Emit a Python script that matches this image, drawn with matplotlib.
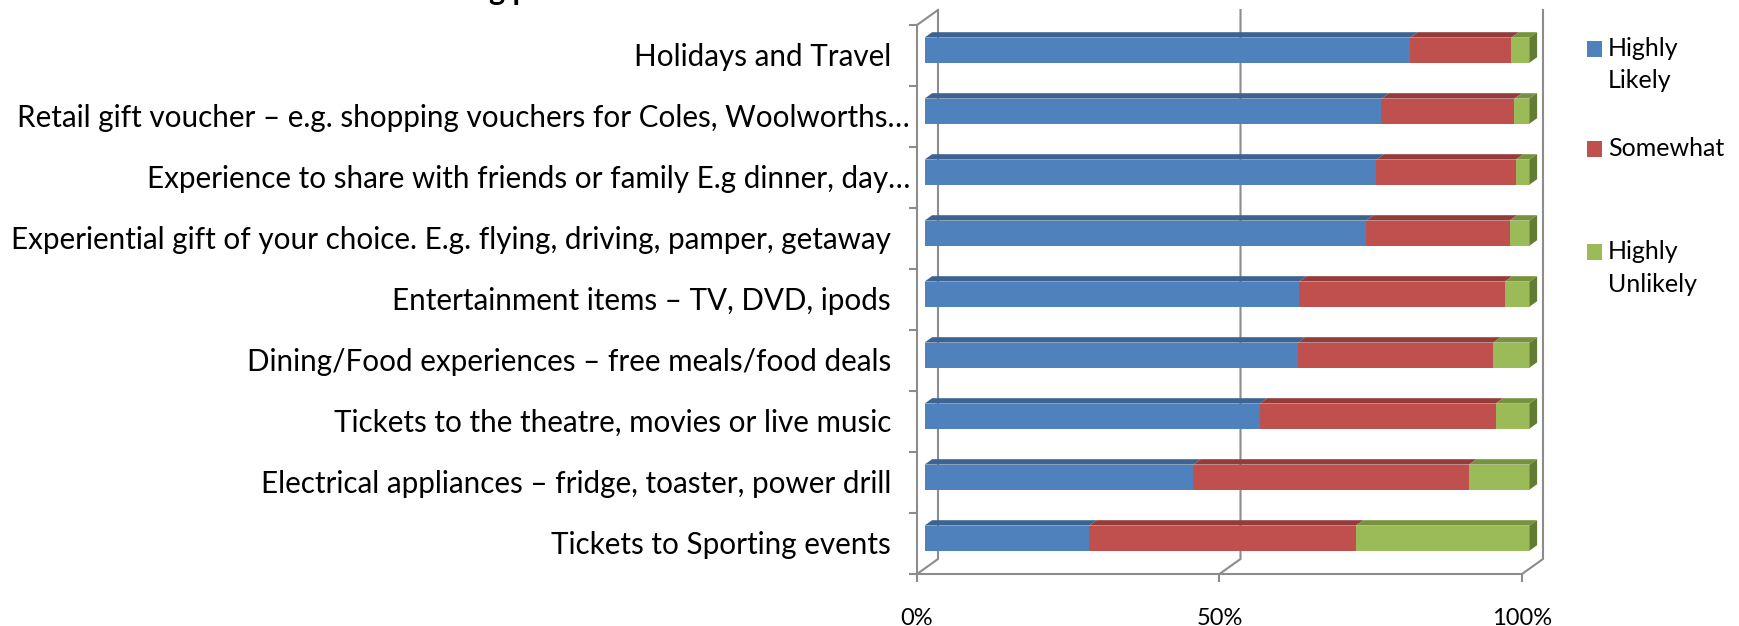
import numpy as np
import matplotlib.pyplot as plt
from matplotlib.patches import Polygon, Rectangle

plt.rcParams['font.family'] = ['Lato', 'DejaVu Sans']

labels = [
    "Holidays and Travel",
    "Retail gift voucher – e.g. shopping vouchers for Coles, Woolworths…",
    "Experience to share with friends or family E.g dinner, day…",
    "Experiential gift of your choice. E.g. flying, driving, pamper, getaway",
    "Entertainment items – TV, DVD, ipods",
    "Dining/Food experiences – free meals/food deals",
    "Tickets to the theatre, movies or live music",
    "Electrical appliances – fridge, toaster, power drill",
    "Tickets to Sporting events",
]
highly_likely = [80.3, 75.5, 74.7, 73.0, 61.9, 61.7, 55.4, 44.4, 27.2]
somewhat = [16.7, 22.0, 23.0, 23.7, 34.0, 32.3, 39.0, 45.6, 44.1]
highly_unlikely = [3.0, 2.5, 2.3, 3.3, 4.1, 6.0, 5.6, 10.0, 28.7]
series_names = ["Highly\nLikely", "Somewhat", "Highly\nUnlikely"]
tick_vals = [0, 50, 100]
tick_labels = ["0%", "50%", "100%"]

front_colors = ['#4F81BD', '#C0504D', '#9BBB59']
top_colors = ['#3C6391', '#943C3A', '#76923C']
side_color = '#627C33'
frame = '#8C8C8C'

W, H = 1740, 626
fig = plt.figure(figsize=(W / 100, H / 100), dpi=100)
ax = fig.add_axes([917 / W, (H - 574) / H, 605 / W, 549 / H])
ax.set_xlim(0, 100)
ax.set_ylim(8.5, -0.5)

# fake 3d: shift for full depth, in data units
px_x = 100 / 605
px_y = 1 / 61
SX, SY = 21 * px_x, -15 * px_y
D0, D1 = 0.36, 0.72
bh = 0.41


def shift(x, y, d):
    return (x + SX * d, y + SY * d)


# walls / gridlines
for v in tick_vals:
    xs = [v, shift(v, 8.5, 1)[0], shift(v, -0.5, 1)[0]]
    ys = [8.5, shift(v, 8.5, 1)[1], shift(v, -0.5, 1)[1]]
    ax.plot(xs, ys, color=frame, lw=1.5, clip_on=False, zorder=1)
ax.plot([0, SX], [-0.5, -0.5 + SY], color=frame, lw=1.5, clip_on=False, zorder=1)

rows = np.arange(len(labels))
left = np.zeros(len(labels))
for k, vals in enumerate([highly_likely, somewhat, highly_unlikely]):
    vals = np.array(vals)
    ax.barh(rows + SY * D0, vals, left=left + SX * D0, height=bh,
            color=front_colors[k], zorder=3, clip_on=False)
    for i in rows:
        x0, x1, yt = left[i], left[i] + vals[i], i - bh / 2
        top = [shift(x0, yt, D0), shift(x1, yt, D0), shift(x1, yt, D1), shift(x0, yt, D1)]
        ax.add_patch(Polygon(top, closed=True, fc=top_colors[k], ec='none',
                             zorder=3, clip_on=False))
    left += vals

for i in rows:
    yt, yb = i - bh / 2, i + bh / 2
    side = [shift(left[i], yt, D0), shift(left[i], yt, D1),
            shift(left[i], yb, D1), shift(left[i], yb, D0)]
    ax.add_patch(Polygon(side, closed=True, fc=side_color, ec='none',
                         zorder=3, clip_on=False))

# axes
for s in ['top', 'right']:
    ax.spines[s].set_visible(False)
for s in ['left', 'bottom']:
    ax.spines[s].set_color(frame)
    ax.spines[s].set_linewidth(1.5)
ax.set_xticks(tick_vals)
ax.set_xticklabels(tick_labels, fontsize=17)
ax.set_yticks(np.arange(-0.5, 9, 1))
ax.set_yticklabels([])
ax.tick_params(axis='both', length=5.8, width=1.5, color=frame, direction='out')
ax.tick_params(axis='x', pad=19)
ax.set_facecolor('none')

for i, lab in enumerate(labels):
    xr = 910 if lab.endswith('…') else 891
    ax.text((xr - 917) * px_x, i + 0.02, lab, ha='right', va='center', fontsize=21.3)

# legend
leg_y = [49, 149, 252]
for name, c, y in zip(series_names, front_colors, leg_y):
    fig.add_artist(Rectangle((1587 / W, 1 - (y + 7.5) / H), 15 / W, 15 / H,
                             transform=fig.transFigure, fc=c, ec='none'))
    fig.text(1608 / W, 1 - (y - 12) / H, name, ha='left', va='top',
             fontsize=18, linespacing=1.5)

# title (mostly cut off at the top edge)
fig.text(489 / W, 1.0, "g p", fontsize=22, fontweight='bold', va='baseline')

fig.savefig('out.png', dpi=100)
